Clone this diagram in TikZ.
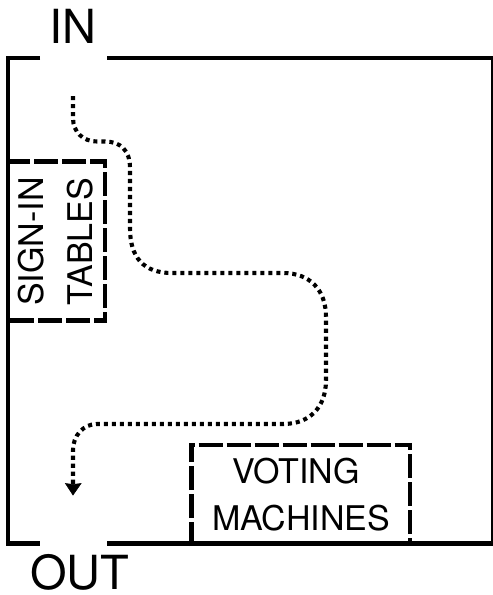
\documentclass[tikz,border=0pt]{standalone}
\usepackage{fontspec}
\setmainfont{TeX Gyre Heros}
\tikzset{
  wall/.style={line width=4.6pt,line cap=butt,line join=miter},
  zone/.style={line width=4.6pt,dash pattern=on 24pt off 4pt},
  routeline/.style={line width=4.1pt,dash pattern=on 4.1pt off 3.9pt},
  routehead/.style={fill=black,draw=black,line width=0.6pt,line join=miter},
  bigtext/.style={font=\fontsize{47}{47}\selectfont,inner sep=0pt,anchor=base},
  smalltext/.style={font=\fontsize{34}{34}\selectfont,inner sep=0pt,anchor=base},
}
\begin{document}
\begin{tikzpicture}[x=1pt,y=-1pt]
\useasboundingbox (0,0) rectangle (493,595);
% walls
\draw[wall] (40,58) -- (8,58) -- (8,543.5) -- (40,543.5);
\draw[wall] (107,58) -- (493,58) -- (493,543.5) -- (107,543.5);
% sign-in zone
\draw[zone] (6,161.2) -- (107.1,161.2);
\draw[zone,dash phase=14.75pt] (105,159.1) -- (105,322.8);
\draw[zone,dash phase=10.75pt] (107.1,320.7) -- (6,320.7);
% voting zone
\draw[zone] (191.5,546) -- (191.5,442.9);
\draw[zone,dash phase=18.75pt] (189.4,445) -- (412.1,445);
\draw[zone,dash phase=16.75pt] (410,442.9) -- (410,543);
% labels
\node[bigtext] (in) at (73,43) {IN};
\node[bigtext] (out) at (80,589.5) {OUT};
\node[smalltext] (vot) at (296,483) {VOTING};
\node[smalltext] (mach) at (301,530) {MACHINES};
\node[smalltext,rotate=90] (sign) at (43,241.5) {SIGN-IN};
\node[smalltext,rotate=90] (tab) at (92,241.5) {TABLES};
% route
\coordinate (start) at (73,96);
\coordinate (end) at (73,484);
\draw[routeline] (start) -- (73,118) .. controls (73,132) and (83,141.5) .. (97,141.5)
  -- (105,141.5) .. controls (120,141.5) and (130,150) .. (130,168)
  -- (130,228) .. controls (130,257) and (143,273) .. (172,273)
  -- (283,273) .. controls (310,273) and (326,290) .. (326,317)
  -- (326,380) .. controls (326,407) and (310,424) .. (283,424)
  -- (97,424) .. controls (83,424) and (73,436) .. (73,450)
  -- (end);
\path[routehead] (65.5,483.5) -- (73,484.5) -- (81,483.5) -- (73,495) -- cycle;
\end{tikzpicture}
\end{document}
